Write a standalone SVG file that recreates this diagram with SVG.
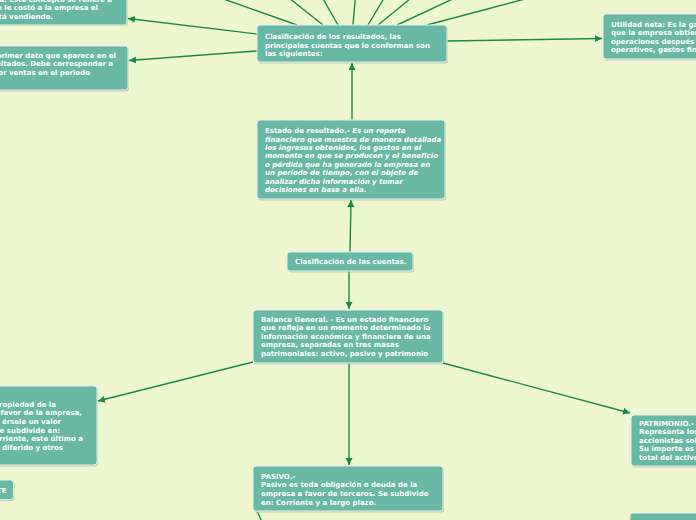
<svg xmlns="http://www.w3.org/2000/svg" width="696" height="520" viewBox="0 0 696 520">
<defs>
<marker id="ah" markerUnits="userSpaceOnUse" markerWidth="8" markerHeight="8" refX="7" refY="3.5" orient="auto">
<path d="M0,0 L7,3.5 L0,7 z" fill="#1b8a47"/>
</marker>
</defs>
<style>
.bg{fill:#eef6cf}
.sh{fill:#9fae92;opacity:0.55}
.nd{fill:#69b8a6;stroke:#e2f1ea;stroke-width:1}
.t{font-family:"DejaVu Sans","Verdana",sans-serif;font-weight:bold;font-size:7px;fill:#ffffff}
.it{font-style:italic}
.e{text-anchor:end}
.c{fill:none;stroke:#1b8a47;stroke-width:1.4}
.a{marker-end:url(#ah)}
</style>
<rect class="bg" x="0" y="0" width="696" height="520"/>

<g id="connectors">
<path class="c" d="M297,25 L198,-10"/>
<path class="c" d="M323,25 L279,-10"/>
<path class="c" d="M338,25 L318,-10"/>
<path class="c" d="M353,25 L356,-10"/>
<path class="c" d="M368,25 L389,-10"/>
<path class="c" d="M378,25 L421,-10"/>
<path class="c" d="M397,25 L472,-10"/>
<path class="c" d="M427,25 L559,-10"/>
<path class="c a" d="M257,34 L128,18.5"/>
<path class="c a" d="M257,51 L129,60.5"/>
<path class="c a" d="M447,41 L602,38.5"/>
<path class="c a" d="M352,120 L352,63"/>
<path class="c a" d="M350,252 L351,200"/>
<path class="c a" d="M349,271 L349,309"/>
<path class="c a" d="M253,362 L98,401"/>
<path class="c a" d="M349,363 L349,465"/>
<path class="c a" d="M443,363 L630,413"/>
<path class="c" d="M257,511 Q259,515 262,522"/>
</g>

<g id="node-costo">
<rect class="sh" x="-9" y="-19" width="137" height="45" rx="3"/>
<rect class="nd" x="-10" y="-20" width="137" height="45" rx="3"/>
<text class="t e" x="112" y="1.5">a: Este concepto se refiere a</text>
<text class="t e" x="98" y="10">e le costó a la empresa el</text>
<text class="t e" x="53" y="18.5">stá vendiendo.</text>
</g>

<g id="node-ventas">
<rect class="sh" x="-9" y="47.5" width="138" height="44" rx="3"/>
<rect class="nd" x="-10" y="46" width="138" height="44" rx="3"/>
<text class="t e" x="116" y="57.5">primer dato que aparece en el</text>
<text class="t e" x="113" y="66">ultados. Debe corresponder a</text>
<text class="t e" x="90" y="74.5">or ventas en el periodo</text>
</g>

<g id="node-clasif-resultados">
<rect class="sh" x="258" y="26.5" width="190" height="37" rx="3"/>
<rect class="nd" x="257" y="25" width="190" height="37" rx="3"/>
<text class="t" x="265" y="39.2">Clasificación de los resultados, las</text>
<text class="t" x="265" y="47.5">principales cuentas que lo conforman son</text>
<text class="t" x="265" y="55.8">las siguientes:</text>
</g>

<g id="node-utilidad">
<rect class="sh" x="604" y="15.5" width="120" height="45" rx="3"/>
<rect class="nd" x="603" y="14" width="120" height="45" rx="3"/>
<text class="t" x="611" y="26.5">Utilidad neta: Es la ganancia</text>
<text class="t" x="611" y="35">que la empresa obtiene de sus</text>
<text class="t" x="611" y="43.5">operaciones después de gastos</text>
<text class="t" x="611" y="52">operativos, gastos financieros</text>
</g>

<g id="node-estado">
<rect class="sh" x="258" y="121.5" width="188" height="79" rx="3"/>
<rect class="nd" x="257" y="120" width="188" height="79" rx="3"/>
<text class="t" x="265" y="133.2">Estado de resultado.- <tspan class="it">Es un reporte</tspan></text>
<text class="t it" x="265" y="141.6">financiero que muestra de manera detallada</text>
<text class="t it" x="265" y="150">los ingresos obtenidos, los gastos en el</text>
<text class="t it" x="265" y="158.4">momento en que se producen y el beneficio</text>
<text class="t it" x="265" y="166.8">o pérdida que ha generado la empresa en</text>
<text class="t it" x="265" y="175.2">un período de tiempo, con el objeto de</text>
<text class="t it" x="265" y="183.6">analizar dicha información y tomar</text>
<text class="t it" x="265" y="192">decisiones en base a ella.</text>
</g>

<g id="node-clasif-cuentas">
<rect class="sh" x="288" y="253.5" width="126" height="19" rx="3"/>
<rect class="nd" x="287" y="252" width="126" height="19" rx="3"/>
<text class="t" x="295" y="264">Clasificación de las cuentas.</text>
</g>

<g id="node-balance">
<rect class="sh" x="254" y="311.5" width="190" height="53" rx="3"/>
<rect class="nd" x="253" y="310" width="190" height="53" rx="3"/>
<text class="t" x="261" y="321.5">Balance General. - Es un estado financiero</text>
<text class="t" x="261" y="330">que refleja en un momento determinado la</text>
<text class="t" x="261" y="338.5">información económica y financiera de una</text>
<text class="t" x="261" y="347">empresa, separadas en tres masas</text>
<text class="t" x="261" y="355.5">patrimoniales: activo, pasivo y patrimonio</text>
</g>

<g id="node-activo">
<rect class="sh" x="-9" y="387.5" width="107" height="79" rx="3"/>
<rect class="nd" x="-10" y="386" width="107" height="79" rx="3"/>
<text class="t e" x="56" y="406.5">propiedad de la</text>
<text class="t e" x="82" y="415.2">favor de la empresa,</text>
<text class="t e" x="61" y="423.9">érsele un valor</text>
<text class="t e" x="60" y="432.6">e subdivide en:</text>
<text class="t e" x="83" y="441.3">rriente, este último a</text>
<text class="t e" x="63" y="450">ivo diferido y otros</text>
</g>

<g id="node-te">
<rect class="sh" x="-9" y="481.5" width="23.5" height="19.5" rx="3"/>
<rect class="nd" x="-10" y="480" width="23.5" height="19.5" rx="3"/>
<text class="t e" x="6.5" y="492.5">TE</text>
</g>

<g id="node-pasivo">
<rect class="sh" x="254" y="467.5" width="190" height="45" rx="3"/>
<rect class="nd" x="253" y="466" width="190" height="45" rx="3"/>
<text class="t" x="261" y="478.5">PASIVO.-</text>
<text class="t" x="261" y="487.2">Pasivo es toda obligación o deuda de la</text>
<text class="t" x="261" y="495.8">empresa a favor de terceros. Se subdivide</text>
<text class="t" x="261" y="504.5">en: Corriente y a largo plazo.</text>
</g>

<g id="node-patrimonio">
<rect class="sh" x="632" y="416.5" width="100" height="51" rx="3"/>
<rect class="nd" x="631" y="415" width="100" height="51" rx="3"/>
<text class="t" x="639" y="425.5">PATRIMONIO.-</text>
<text class="t" x="639" y="434">Representa los</text>
<text class="t" x="639" y="442.5">accionistas sobre</text>
<text class="t" x="639" y="451">Su importe es la</text>
<text class="t" x="639" y="459.5">total del activo</text>
</g>

<g id="node-bottom-right">
<rect class="sh" x="631" y="514.5" width="100" height="20" rx="3"/>
<rect class="nd" x="630" y="513" width="100" height="20" rx="3"/>
</g>
</svg>
